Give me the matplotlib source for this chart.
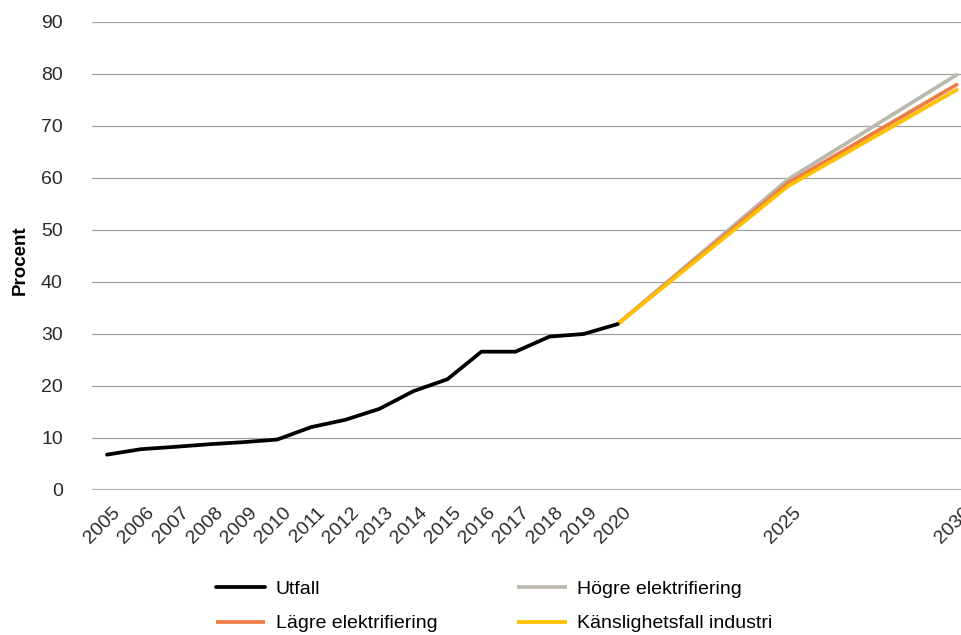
import matplotlib
matplotlib.use("Agg")
import matplotlib.pyplot as plt
import matplotlib.transforms as mtransforms

plt.rcParams['font.family'] = ['Liberation Sans', 'DejaVu Sans']

# Historical outcome
years_hist = [2005, 2006, 2007, 2008, 2009, 2010, 2011, 2012, 2013, 2014,
              2015, 2016, 2017, 2018, 2019, 2020]
utfall = [6.8, 7.85, 8.3, 8.8, 9.2, 9.7, 12.1, 13.5, 15.6, 19.0,
          21.3, 26.6, 26.6, 29.5, 30.0, 31.9]

# Scenarios
years_proj = [2020, 2025, 2030]
hogre = [31.9, 59.7, 80.0]
lagre = [31.9, 59.0, 78.1]
kanslighet = [31.9, 58.4, 77.1]

xticks = years_hist + [2025, 2030]
yticks = list(range(0, 91, 10))

fig = plt.figure(figsize=(9.61, 6.35), dpi=100)
ax = fig.add_axes([92 / 961, 1 - 490 / 635, 1 - 92 / 961, (490 - 22) / 635])

ax.plot(years_proj, hogre, color='#bdb8ad', lw=2.7, clip_on=False,
        label='Högre elektrifiering', solid_capstyle='butt')
ax.plot(years_proj, lagre, color='#ed7d45', lw=2.7, clip_on=False,
        label='Lägre elektrifiering', solid_capstyle='butt')
ax.plot(years_proj, kanslighet, color='#ffc000', lw=2.7, clip_on=False,
        label='Känslighetsfall industri', solid_capstyle='butt')
ax.plot(years_hist, utfall, color='black', lw=2.7, clip_on=False,
        label='Utfall', solid_capstyle='round')

ax.set_xlim(2005 - 15 / 34.04, 2030 + 3 / 34.04)
ax.set_ylim(0, 90)
ax.set_yticks(yticks)
ax.set_xticks(xticks)
ax.set_xticklabels([str(y) for y in xticks], rotation=45, ha='right',
                   rotation_mode='anchor')
ax.tick_params(axis='both', length=0, labelsize=14, colors='#2a2a2a')
ax.tick_params(axis='y', pad=21)
ax.tick_params(axis='x', pad=10)

# nudge the slanted year labels a little to the right
shift = mtransforms.ScaledTranslation(5 / 100, 0, fig.dpi_scale_trans)
for lbl in ax.get_xticklabels():
    lbl.set_transform(lbl.get_transform() + shift)

ax.grid(axis='y', color='#a0a0a0', lw=0.9)
ax.axhline(0, color='#b5b5b5', lw=1.6, zorder=0.5)
ax.set_axisbelow(True)
for s in ax.spines.values():
    s.set_visible(False)

ax.set_ylabel('Procent', fontsize=13.5, fontweight='bold')
ax.yaxis.set_label_coords(-0.073, 0.49)

h = {l.get_label(): l for l in ax.get_lines()}
order = ['Utfall', 'Lägre elektrifiering', 'Högre elektrifiering',
         'Känslighetsfall industri']
fig.legend([h[k] for k in order], order, ncol=2, frameon=False,
           loc='upper left', bbox_to_anchor=(200 / 961, 1 - 565 / 635),
           fontsize=14, handlelength=2.55, handletextpad=0.55,
           columnspacing=4.1, labelspacing=0.85, borderpad=0.3)

fig.savefig('out.png', dpi=100)
